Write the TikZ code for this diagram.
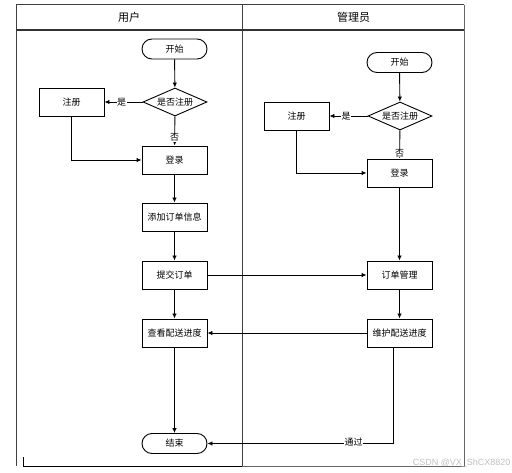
\documentclass[tikz,border=0pt]{standalone}
\usepackage{fontspec}
\newfontfamily\cjk{Noto Sans CJK SC}
\newfontfamily\wmfont{Liberation Sans}
\usetikzlibrary{arrows.meta,shapes.geometric}
\begin{document}
\begin{tikzpicture}[x=1pt,y=-1pt,
  font=\cjk\fontsize{9}{10}\selectfont,
  every path/.style={line width=0.9pt},
  proc/.style={draw, minimum width=65pt, minimum height=28pt, inner sep=0pt},
  term/.style={draw, rounded corners=10pt, minimum width=65pt, minimum height=20pt, inner sep=0pt},
  dec/.style={draw, diamond, aspect=2.3, minimum width=64pt, minimum height=28pt, inner sep=0pt},
  arr/.style={-{Latex[length=5pt,width=4.5pt]}},
  lab/.style={fill=white, inner sep=0.5pt},
  frame/.style={draw=black!75, line width=1pt},
  head/.style={font=\cjk\fontsize{11}{12}\selectfont}
]
\useasboundingbox (0,0) rectangle (512,473);
% swimlane frame
\draw[frame] (16,5) -- (464,5);
\draw[frame] (16,5) -- (16,466);
\draw[frame] (242,5) -- (242,466);
\draw[frame, draw=black!60] (464,5) -- (464,466) -- (242,466);
\draw[frame, draw=black] (23,457) -- (23,466) -- (242,466);
\draw[draw=black!80, line width=1.6pt] (16,30) -- (464,30);
\node[head] (h1) at (129,17) {用户};
\node[head] (h2) at (353.5,17) {管理员};

% left lane
\node[term] (s1) at (174.5,49) {开始};
\node[dec]  (d1) at (175,102) {是否注册};
\node[proc] (r1) at (71.5,102) {注册};
\node[proc] (l1) at (174.5,160) {登录};
\node[proc] (a1) at (174.5,217) {添加订单信息};
\node[proc] (t1) at (174.5,275) {提交订单};
\node[proc] (v1) at (174.5,333) {查看配送进度};
\node[term] (e1) at (174.5,443.5) {结束};

% right lane
\node[term] (s2) at (399.5,62.5) {开始};
\node[dec]  (d2) at (400,116) {是否注册};
\node[proc] (r2) at (296.5,116) {注册};
\node[proc] (l2) at (399.5,173) {登录};
\node[proc] (m2) at (399.5,275) {订单管理};
\node[proc] (w2) at (399.5,333) {维护配送进度};

% left connectors
\draw[arr] (s1) -- (d1);
\draw[arr] (d1) -- node[lab, pos=0.55] (y1) {是} (r1);
\draw[arr] (d1) -- node[lab, pos=0.73] (n1) {否} (l1);
\draw[arr] (r1) |- (l1);
\draw[arr] (l1) -- (a1);
\draw[arr] (a1) -- (t1);
\draw[arr] (t1) -- (v1);
\draw[arr] (v1) -- (e1);

% right connectors
\draw[arr] (s2) -- (d2);
\draw[arr] (d2) -- node[lab, pos=0.56] (y2) {是} (r2);
\draw[arr] (d2) -- node[lab, pos=0.8] (n2) {否} (l2);
\draw[arr] (r2) |- (l2);
\draw[arr] (l2) -- (m2);
\draw[arr] (m2) -- (w2);

% cross-lane
\draw[arr] (t1) -- (m2);
\draw[arr] (w2) -- (v1);
\coordinate (wb) at ([xshift=-6pt]w2.south);
\draw[arr] (wb) |- node[lab, pos=0.607, yshift=1.5pt] (pass) {通过} (e1);

% watermark
\node[anchor=west, text=black!25, font=\wmfont\fontsize{9}{10}\selectfont] (wm) at (409,463) {CSDN @VX\_ShCX8820};
\end{tikzpicture}
\end{document}
